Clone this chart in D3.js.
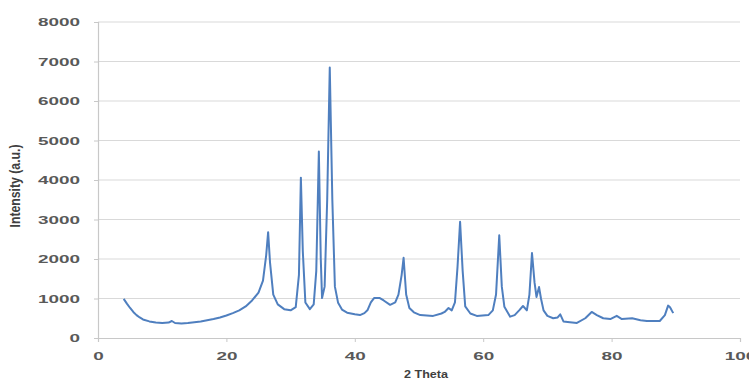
<!DOCTYPE html>
<html><head><meta charset="utf-8">
<script src="https://cdn.jsdelivr.net/npm/d3@7/dist/d3.min.js"></script>
<style>html,body{margin:0;padding:0;background:#fff;}svg{display:block;}</style>
</head><body>
<script>
const twoTheta = [4.0,4.5,5.0,5.5,6.0,6.5,7.0,8.0,9.0,10.0,11.0,11.5,12.0,13.0,14.0,15.0,16.0,17.0,18.0,19.0,20.0,21.0,22.0,23.0,24.0,25.0,25.7,26.2,26.5,26.8,27.3,28.0,29.0,30.0,30.8,31.3,31.6,31.9,32.3,33.0,33.6,34.0,34.4,34.7,34.9,35.3,35.7,36.1,36.5,36.9,37.4,38.0,38.8,40.0,40.8,41.5,42.0,42.5,43.0,43.9,44.5,45.5,46.3,46.8,47.3,47.6,48.0,48.5,49.2,50.2,52.2,53.5,54.0,54.6,55.1,55.6,56.0,56.4,56.8,57.2,58.0,59.0,60.8,61.5,62.0,62.5,62.9,63.3,64.2,64.9,65.6,66.2,66.8,67.2,67.6,68.0,68.3,68.7,69.0,69.4,70.0,70.9,71.6,72.0,72.5,73.5,74.6,75.9,76.9,77.7,78.7,79.8,80.8,81.6,83.2,84.5,85.5,87.5,88.3,88.8,89.1,89.6];
const intensity = [990,870,760,660,580,520,470,420,390,380,390,430,380,370,380,400,420,450,480,520,570,630,700,800,950,1150,1450,2100,2680,1900,1100,850,730,700,780,1600,4060,2200,900,730,850,1700,4720,2000,1010,1300,3500,6850,3500,1300,890,720,640,600,580,630,710,900,1010,1010,950,840,900,1100,1600,2030,1100,760,650,580,560,620,660,760,700,900,1800,2940,1700,800,620,560,580,700,1100,2600,1300,790,540,580,700,810,700,1100,2150,1400,1040,1290,1000,700,560,500,520,600,420,400,380,500,660,580,500,480,560,480,500,450,430,430,580,820,780,630];
const xTicks = [0,20,40,60,80,100];
const yTicks = [0,1000,2000,3000,4000,5000,6000,7000,8000];
const xTitle = "2 Theta";
const yTitle = "Intensity (a.u.)";

const W = 749, H = 381;
const svg = d3.select("body").append("svg").attr("width", W).attr("height", H);
const x = d3.scaleLinear().domain([0,100]).range([98,740]);
const y = d3.scaleLinear().domain([0,8000]).range([338,22]);

// gridlines
svg.append("g").selectAll("line").data(yTicks.filter(d=>d>0)).join("line")
  .attr("x1", x(0)).attr("x2", x(100))
  .attr("y1", d=>y(d)).attr("y2", d=>y(d))
  .attr("stroke", "#d9d9d9").attr("stroke-width", 1.2);

// axes
const yAxis = svg.append("g").attr("transform", `translate(${x(0)},0)`)
  .call(d3.axisLeft(y).tickValues(yTicks).tickSize(4).tickPadding(14).tickFormat(d3.format("d")));
const xAxis = svg.append("g").attr("transform", `translate(0,${y(0)})`)
  .call(d3.axisBottom(x).tickValues(xTicks).tickSize(4).tickPadding(10).tickFormat(d3.format("d")));
[yAxis, xAxis].forEach(g => {
  g.select(".domain").attr("stroke", "#c8c8c8").attr("stroke-width", 1.2);
  g.selectAll(".tick line").attr("stroke", "#c8c8c8");
  g.selectAll(".tick text")
    .attr("fill", "#595959").attr("font-family", "Liberation Sans, Arial, sans-serif")
    .attr("font-weight", "bold").attr("font-size", 11)
    .attr("textLength", function(){ return this.textContent.length * 10.5; })
    .attr("lengthAdjust", "spacingAndGlyphs");
});

// line
const line = d3.line().x((d,i)=>x(twoTheta[i])).y(d=>y(d));
svg.append("path").datum(intensity)
  .attr("d", line).attr("fill", "none")
  .attr("stroke", "#4f7fbf").attr("stroke-width", 2).attr("stroke-linejoin", "round");

// titles
svg.append("text").text(xTitle)
  .attr("x", 426).attr("y", 378).attr("text-anchor", "middle")
  .attr("font-family", "Liberation Sans, Arial, sans-serif").attr("font-weight", "bold")
  .attr("font-size", 11).attr("fill", "#404040")
  .attr("textLength", 44).attr("lengthAdjust", "spacingAndGlyphs");
svg.append("text").text(yTitle)
  .attr("transform", "translate(20,186) scale(1.5,1) rotate(-90)")
  .attr("text-anchor", "middle")
  .attr("font-family", "Liberation Sans, Arial, sans-serif").attr("font-weight", "bold")
  .attr("font-size", 10).attr("fill", "#404040")
  .attr("textLength", 83).attr("lengthAdjust", "spacingAndGlyphs");
</script>
</body></html>
